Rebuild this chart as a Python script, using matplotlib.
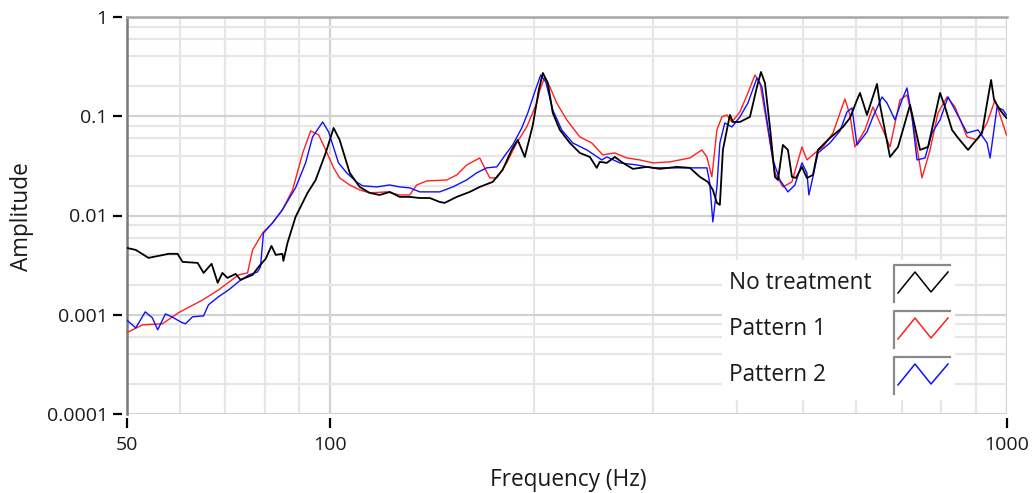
import matplotlib
matplotlib.use("Agg")
import matplotlib.pyplot as plt
from matplotlib.ticker import FixedLocator, LogLocator, NullFormatter, FixedFormatter
from matplotlib.transforms import blended_transform_factory
from matplotlib.patches import Rectangle
from matplotlib.lines import Line2D

# ---------------- data ----------------
freq_none = [50.0, 51.6, 53.9, 57.7, 59.5, 60.5, 63.7, 65.0, 66.8, 68.2, 69.3, 70.5, 72.5, 73.7,
             76.8, 78.4, 80.3, 81.9, 83.1, 85.0, 85.3, 86.5, 88.9, 92.6, 95.2, 98.5, 101.2, 103.3,
             106.9, 110.6, 114.4, 118.4, 122.5, 126.7, 131.1, 135.7, 140.4, 145.2, 147.7, 153.9,
             160.9, 166.4, 173.9, 179.9, 185.5, 189.4, 194.0, 199.4, 203.5, 206.3, 209.8, 213.4,
             218.6, 226.2, 234.0, 242.1, 247.9, 250.4, 256.5, 263.6, 270.9, 280.3, 294.0, 307.3,
             325.6, 340.3, 352.1, 361.8, 368.0, 373.1, 376.9, 380.8, 386.0, 390.0, 394.0, 403.5,
             417.5, 427.6, 433.5, 439.4, 446.9, 454.6, 459.3, 467.1, 475.2, 481.7, 488.3, 498.4,
             506.9, 517.4, 526.3, 548.3, 573.1, 586.9, 601.1, 607.3, 621.9, 643.5, 650.1, 672.6,
             691.2, 720.1, 745.1, 765.6, 797.5, 811.2, 830.8, 847.9, 877.3, 920.2, 936.0, 948.9,
             958.6, 978.1, 1000.0]
amp_none = [0.00472, 0.00450, 0.00374, 0.00411, 0.00411, 0.00341, 0.00333, 0.00264, 0.00326,
            0.00210, 0.00264, 0.00235, 0.00258, 0.00225, 0.00252, 0.00304, 0.00366, 0.00494,
            0.00401, 0.00411, 0.00349, 0.00530, 0.00968, 0.0169, 0.0228, 0.0427, 0.0762, 0.0577,
            0.0269, 0.0194, 0.0169, 0.0161, 0.0173, 0.0154, 0.0154, 0.0150, 0.0150, 0.0137, 0.0134,
            0.0154, 0.0173, 0.0194, 0.0218, 0.0288, 0.0458, 0.0577, 0.0389, 0.0817, 0.184, 0.273,
            0.2165, 0.108, 0.0728, 0.0538, 0.0427, 0.0389, 0.0302, 0.0347, 0.0339, 0.0389, 0.0339,
            0.0295, 0.0309, 0.0295, 0.0309, 0.0302, 0.0245, 0.0218, 0.0181, 0.0134, 0.0128, 0.0458,
            0.0728, 0.1031, 0.0876, 0.0876, 0.0985, 0.1972, 0.2793, 0.2165, 0.0780, 0.0245, 0.0228,
            0.0514, 0.0458, 0.0245, 0.0239, 0.0309, 0.0239, 0.0256, 0.0458, 0.0605, 0.0780, 0.0961,
            0.1459, 0.1717, 0.1031, 0.2115, 0.130, 0.0389, 0.0491, 0.130, 0.0458, 0.0491, 0.1717,
            0.1241, 0.0728, 0.0605, 0.0458, 0.0679, 0.1361, 0.232, 0.1459, 0.1158, 0.0961]

freq_p1 = [50.0, 52.8, 56.5, 59.7, 64.8, 68.4, 73.2, 75.5, 76.8, 79.5, 82.2, 85.0, 88.0, 91.1,
           93.6, 96.2, 98.5, 101.2, 103.3, 106.9, 110.6, 114.4, 121.2, 126.7, 131.1, 134.3, 138.9,
           148.7, 153.9, 159.2, 166.4, 172.2, 176.4, 182.4, 188.7, 195.3, 202.1, 204.2, 207.7,
           211.3, 216.3, 223.8, 234.0, 243.7, 253.0, 263.6, 274.6, 287.0, 300.0, 317.9, 340.3,
           354.5, 360.6, 366.8, 373.1, 379.5, 386.0, 392.7, 403.5, 414.7, 424.7, 432.0, 443.9,
           454.6, 467.1, 481.7, 498.4, 506.9, 521.0, 535.4, 554.0, 576.9, 586.9, 596.8, 617.6,
           634.6, 656.6, 672.6, 695.8, 712.7, 724.9, 750.0, 770.8, 792.1, 816.8, 839.2, 874.3,
           904.6, 936.0, 961.6, 1000.0]
amp_p1 = [0.000657, 0.000791, 0.00081, 0.00105, 0.00141, 0.00178, 0.00252, 0.00264, 0.0045,
          0.00668, 0.00843, 0.0114, 0.0181, 0.0427, 0.0711, 0.0648, 0.0458, 0.0302, 0.0239, 0.0203,
          0.0181, 0.0169, 0.0173, 0.0161, 0.0161, 0.0203, 0.0223, 0.0228, 0.0256, 0.0323, 0.0380,
          0.0239, 0.0239, 0.0339, 0.0538, 0.0780, 0.1361, 0.184, 0.2487, 0.1972, 0.1361, 0.0918,
          0.0619, 0.0538, 0.0408, 0.0427, 0.0380, 0.0363, 0.0339, 0.0347, 0.0380, 0.0458, 0.0389,
          0.0245, 0.0728, 0.0985, 0.1031, 0.0876, 0.1105, 0.1717, 0.2605, 0.2165, 0.0728, 0.0269,
          0.0194, 0.0218, 0.0491, 0.0363, 0.0427, 0.0491, 0.0679, 0.1494, 0.1031, 0.0491, 0.0728,
          0.1241, 0.0728, 0.0491, 0.1459, 0.1639, 0.0985, 0.0239, 0.0458, 0.108, 0.1564, 0.1241,
          0.0619, 0.0577, 0.0856, 0.1459, 0.0648]

freq_p2 = [50.0, 51.6, 53.3, 54.6, 55.6, 57.1, 58.7, 60.1, 61.1, 62.6, 65.0, 66.1, 68.4, 70.8,
           73.2, 75.8, 78.1, 78.9, 79.7, 82.2, 85.0, 88.9, 92.0, 94.2, 97.5, 99.5, 102.9, 105.8,
           109.4, 111.7, 117.2, 122.5, 126.7, 131.1, 135.7, 145.2, 151.8, 159.2, 164.7, 170.4,
           176.4, 182.4, 186.2, 192.0, 196.0, 200.7, 204.8, 208.4, 213.4, 220.0, 228.4, 239.6,
           252.1, 256.5, 268.1, 284.1, 300.0, 317.9, 343.8, 360.6, 364.1, 368.0, 373.1, 376.9,
           383.3, 392.7, 403.5, 414.7, 427.6, 434.9, 443.9, 451.5, 462.4, 475.2, 486.6, 498.4,
           506.9, 510.3, 517.4, 526.3, 548.3, 567.3, 581.0, 590.9, 601.1, 621.9, 634.6, 654.5,
           665.7, 684.1, 700.6, 712.7, 724.9, 737.4, 757.8, 776.1, 797.5, 819.6, 839.2, 874.3,
           907.7, 936.0, 945.7, 968.5, 988.2, 1000.0]
amp_p2 = [0.000889, 0.000738, 0.00107, 0.000931, 0.000705, 0.00102, 0.000931, 0.000848, 0.00081,
          0.000953, 0.000975, 0.00126, 0.00152, 0.00178, 0.00215, 0.00252, 0.0027, 0.00304,
          0.00668, 0.00843, 0.0114, 0.0190, 0.0339, 0.0619, 0.0876, 0.0695, 0.0339, 0.0269,
          0.0218, 0.0199, 0.0194, 0.0203, 0.0194, 0.0190, 0.0173, 0.0173, 0.0194, 0.0228, 0.0269,
          0.0302, 0.0309, 0.0427, 0.0514, 0.0762, 0.108, 0.1757, 0.2605, 0.2214, 0.1158, 0.0728,
          0.0538, 0.0458, 0.0363, 0.0389, 0.0339, 0.0323, 0.0302, 0.0302, 0.0302, 0.0302, 0.0213,
          0.00862, 0.0194, 0.0538, 0.0856, 0.0780, 0.0985, 0.1361, 0.2430, 0.1972, 0.0780, 0.0363,
          0.0228, 0.0173, 0.0203, 0.0339, 0.0269, 0.0161, 0.0245, 0.0427, 0.0538, 0.0711, 0.1105,
          0.1213, 0.0514, 0.0695, 0.0985, 0.1564, 0.1361, 0.0918, 0.1459, 0.1928, 0.0985, 0.0363,
          0.0380, 0.0679, 0.0918, 0.1564, 0.1158, 0.0679, 0.0728, 0.0538, 0.0380, 0.1241, 0.1158,
          0.1031]

series_names = ["No treatment", "Pattern 1", "Pattern 2"]
series_colors = ["#000000", "#ff2020", "#1010ff"]
x_ticks = [50, 100, 1000]
x_ticklabels = ["50", "100", "1000"]
y_ticks = [0.0001, 0.001, 0.01, 0.1, 1]
y_ticklabels = ["0.0001", "0.001", "0.01", "0.1", "1"]

# ---------------- figure ----------------
W, H = 1033, 493
plt.rcParams['font.family'] = ['Open Sans', 'DejaVu Sans']
fig = plt.figure(figsize=(W / 100, H / 100), dpi=100)
fig.patch.set_facecolor('white')

L, R, T, B = 126.5, 1006.5, 17, 414
ax = fig.add_axes([L / W, 1 - B / H, (R - L) / W, (B - T) / H])
ax.set_xscale('log')
ax.set_yscale('log')
ax.set_xlim(50, 1000)
ax.set_ylim(0.0001, 1)

ax.plot(freq_p1, amp_p1, color=series_colors[1], lw=1.0, zorder=3)
ax.plot(freq_p2, amp_p2, color=series_colors[2], lw=1.0, zorder=4)
ax.plot(freq_none, amp_none, color=series_colors[0], lw=1.3, zorder=5)

# grid
ax.xaxis.set_major_locator(FixedLocator(x_ticks))
ax.xaxis.set_major_formatter(FixedFormatter(x_ticklabels))
ax.xaxis.set_minor_locator(LogLocator(base=10, subs=[2, 3, 4, 5, 6, 7, 8, 9]))
ax.xaxis.set_minor_formatter(NullFormatter())
ax.yaxis.set_major_locator(FixedLocator(y_ticks))
ax.yaxis.set_major_formatter(FixedFormatter(y_ticklabels))
ax.yaxis.set_minor_locator(LogLocator(base=10, subs=[2, 4, 6, 8]))
ax.yaxis.set_minor_formatter(NullFormatter())
ax.grid(which='major', color='#d2d2d2', lw=1.6, zorder=0)
ax.grid(which='minor', color='#e6e6e6', lw=1.6, zorder=0)
ax.set_axisbelow(True)

ax.tick_params(which='both', length=0)
ax.tick_params(axis='y', which='major', pad=13.5, labelsize=14, labelcolor='#1a1a1a')
ax.tick_params(axis='x', which='major', pad=15.5, labelsize=14, labelcolor='#1a1a1a')

for s in ['right', 'bottom']:
    ax.spines[s].set_visible(False)
ax.spines['top'].set_color('#a6a6a6')
ax.spines['top'].set_linewidth(1.8)
ax.spines['left'].set_color('#7a7a7a')
ax.spines['left'].set_linewidth(1.8)

# detached tick marks (LabVIEW style)
pw, ph = R - L, B - T
ty = blended_transform_factory(ax.transAxes, ax.transData)
for v in y_ticks:
    ax.plot([(113 - L) / pw, (122 - L) / pw], [v, v], transform=ty, color='black',
            lw=1.6, clip_on=False, solid_capstyle='butt')
tx = blended_transform_factory(ax.transData, ax.transAxes)
for v in x_ticks:
    ax.plot([v, v], [-(418 - B) / ph, -(428 - B) / ph], transform=tx, color='black',
            lw=1.6, clip_on=False, solid_capstyle='butt')

# axis titles
LABEL_FS = 16.3
fig.text(568 / W, 1 - 480 / H, "Frequency (Hz)", ha='center', va='center',
         fontsize=LABEL_FS, color='#1a1a1a')
fig.text(22 / W, 1 - 217 / H, "Amplitude", ha='center', va='center', rotation=90,
         fontsize=LABEL_FS, color='#1a1a1a')

# legend (custom, LabVIEW style)
def fx(px):
    return px / W

def fy(py):
    return 1 - py / H

fig.add_artist(Rectangle((fx(722), fy(400)), (955 - 722) / W, (400 - 260) / H,
                         transform=fig.transFigure, facecolor='white', edgecolor='none',
                         zorder=10))
for i, (name, col) in enumerate(zip(series_names, series_colors)):
    dy = 46 * i
    fig.text(fx(729), fy(283 + dy), name, ha='left', va='center', fontsize=LABEL_FS,
             color='#1a1a1a', zorder=11)
    # sunken swatch frame (top + left edges)
    fig.add_artist(Line2D([fx(894), fx(894), fx(950)],
                          [fy(302 + dy), fy(265 + dy), fy(265 + dy)],
                          transform=fig.transFigure, color='#8a8a8a', lw=1.6, zorder=11))
    fig.add_artist(Line2D([fx(898), fx(915), fx(931), fx(948)],
                          [fy(293 + dy), fy(272 + dy), fy(292 + dy), fy(272 + dy)],
                          transform=fig.transFigure, color=col, lw=1.1, zorder=11))

fig.savefig("out.png", dpi=100, facecolor='white')
